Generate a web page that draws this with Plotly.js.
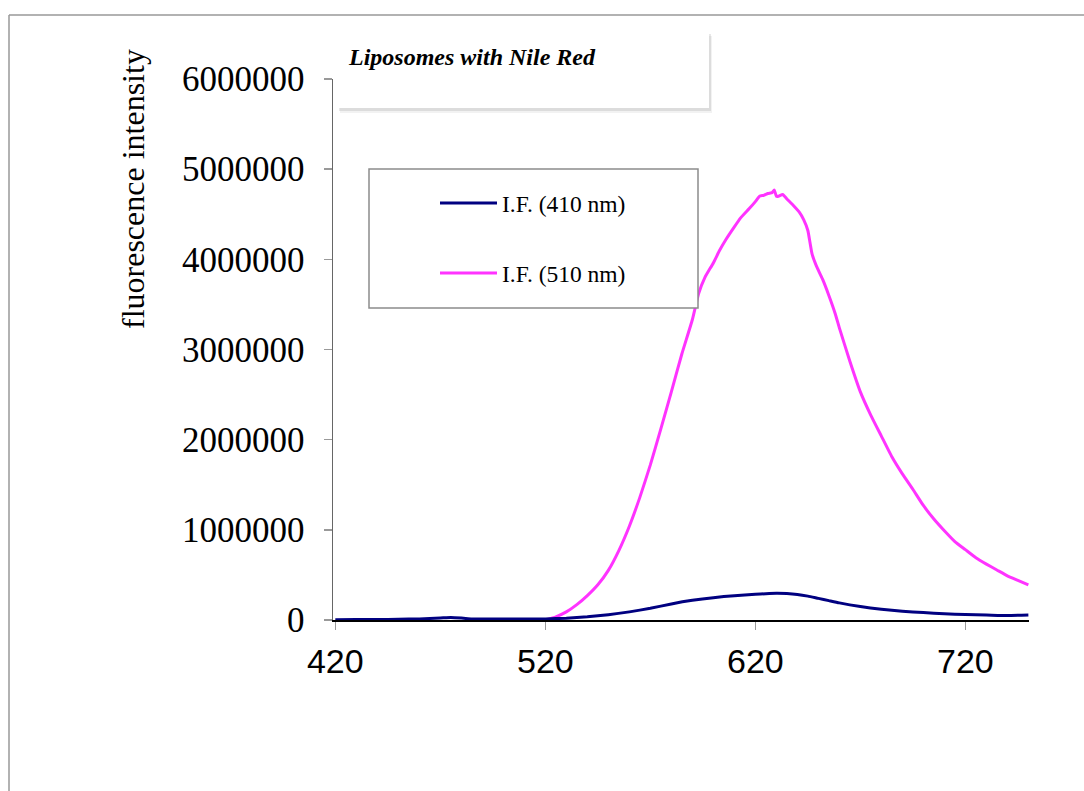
<!DOCTYPE html>
<html>
<head>
<meta charset="utf-8">
<script src="https://cdn.plot.ly/plotly-3.0.1.min.js"></script>
<style>
  html, body { margin: 0; padding: 0; background: #ffffff; }
  #chart { width: 1084px; height: 791px; }
</style>
</head>
<body>
<div id="chart"></div>
<script>
// Wavelength (nm) and fluorescence intensity
const wl510 = [520, 525, 530, 535, 540, 545, 550, 555, 560, 565, 570, 575, 580, 585, 590, 593, 596, 600, 603, 606, 610, 613, 617, 620, 622, 624, 626, 628, 629, 630, 631, 633, 635, 638, 641, 643, 645, 646, 647, 649, 652, 655, 658, 660, 665, 670, 675, 680, 685, 690, 695, 700, 705, 710, 715, 720, 725, 730, 735, 740, 745, 750];
const if510 = [0, 35000, 90000, 170000, 270000, 390000, 550000, 770000, 1040000, 1360000, 1720000, 2120000, 2530000, 2950000, 3330000, 3620000, 3800000, 3960000, 4100000, 4220000, 4360000, 4460000, 4560000, 4640000, 4700000, 4710000, 4730000, 4740000, 4770000, 4700000, 4700000, 4720000, 4670000, 4600000, 4520000, 4440000, 4320000, 4190000, 4060000, 3930000, 3780000, 3600000, 3400000, 3240000, 2870000, 2530000, 2270000, 2040000, 1810000, 1620000, 1450000, 1270000, 1120000, 990000, 870000, 780000, 690000, 620000, 555000, 490000, 440000, 390000];

const wl410 = [420, 430, 440, 450, 460, 470, 475, 480, 485, 490, 500, 510, 520, 530, 540, 550, 560, 570, 580, 590, 600, 610, 620, 625, 630, 635, 640, 645, 650, 655, 660, 670, 680, 690, 700, 710, 720, 730, 740, 750];
const if410 = [4000, 5000, 6000, 8000, 12000, 22000, 28000, 22000, 12000, 10000, 10000, 10000, 12000, 20000, 35000, 58000, 90000, 130000, 178000, 218000, 248000, 270000, 285000, 292000, 296000, 293000, 283000, 265000, 240000, 215000, 190000, 150000, 120000, 98000, 82000, 70000, 60000, 55000, 50000, 55000];

const seriesNames = ["I.F. (410 nm)", "I.F. (510 nm)"];
const seriesColors = ["#000080", "#FF33FF"];
const chartTitle = "Liposomes with Nile Red";
const yTitle = "fluorescence intensity";
const xTickVals = [420, 520, 620, 720];
const yTickVals = [0, 1000000, 2000000, 3000000, 4000000, 5000000, 6000000];

// plot area geometry in pixels
const W = 1084, H = 791;
const L = 333, R = 55, T = 79, B = 171;
const PW = W - L - R, PH = H - T - B;
const px = x => (x - L) / PW;          // pixel x -> paper x
const py = y => (H - B - y) / PH;      // pixel y -> paper y

const traces = [
  { x: wl510, y: if510, name: seriesNames[1], type: 'scatter', mode: 'lines',
    line: { color: seriesColors[1], width: 3, shape: 'spline', smoothing: 0.4 }, showlegend: false },
  { x: wl410, y: if410, name: seriesNames[0], type: 'scatter', mode: 'lines',
    line: { color: seriesColors[0], width: 3, shape: 'spline', smoothing: 0.5 }, showlegend: false }
];

const shapes = [
  // outer frame (top & left)
  { type: 'line', xref: 'paper', yref: 'paper', x0: px(9), x1: px(1084), y0: py(15), y1: py(15),
    line: { color: '#999999', width: 1.5 }, layer: 'above' },
  { type: 'line', xref: 'paper', yref: 'paper', x0: px(9), x1: px(9), y0: py(15), y1: py(791),
    line: { color: '#999999', width: 1.5 }, layer: 'above' },
  // title box shadow
  { type: 'rect', xref: 'paper', yref: 'paper', x0: px(340), x1: px(712), y0: py(36), y1: py(113),
    line: { width: 0 }, fillcolor: 'rgba(0,0,0,0.05)', layer: 'above' },
  { type: 'rect', xref: 'paper', yref: 'paper', x0: px(339), x1: px(711), y0: py(34), y1: py(111),
    line: { width: 0 }, fillcolor: 'rgba(0,0,0,0.09)', layer: 'above' },
  // title box
  { type: 'rect', xref: 'paper', yref: 'paper', x0: px(338), x1: px(709), y0: py(32), y1: py(108),
    line: { width: 0 }, fillcolor: '#ffffff', layer: 'above' },
  // legend box
  { type: 'rect', xref: 'paper', yref: 'paper', x0: px(369), x1: px(698), y0: py(169), y1: py(308),
    line: { color: '#8c8c8c', width: 1.5 }, fillcolor: '#ffffff', layer: 'above' },
  // legend samples
  { type: 'line', xref: 'paper', yref: 'paper', x0: px(440), x1: px(497), y0: py(203), y1: py(203),
    line: { color: seriesColors[0], width: 3 }, layer: 'above' },
  { type: 'line', xref: 'paper', yref: 'paper', x0: px(440), x1: px(497), y0: py(273), y1: py(273),
    line: { color: seriesColors[1], width: 3 }, layer: 'above' }
];

const serif = 'Liberation Serif, Times New Roman, serif';
const annotations = [
  { text: '<b><i>' + chartTitle + '</i></b>', xref: 'paper', yref: 'paper', x: px(346), y: py(57),
    xanchor: 'left', yanchor: 'middle', showarrow: false,
    font: { family: serif, size: 24, color: '#000000' } },
  { text: seriesNames[0], xref: 'paper', yref: 'paper', x: px(500), y: py(204),
    xanchor: 'left', yanchor: 'middle', showarrow: false,
    font: { family: serif, size: 23.5, color: '#000000' } },
  { text: seriesNames[1], xref: 'paper', yref: 'paper', x: px(500), y: py(274),
    xanchor: 'left', yanchor: 'middle', showarrow: false,
    font: { family: serif, size: 23.5, color: '#000000' } },
  { text: yTitle, xref: 'paper', yref: 'paper', x: px(133), y: py(189), textangle: -90,
    xanchor: 'center', yanchor: 'middle', showarrow: false,
    font: { family: serif, size: 32, color: '#000000' } }
];

const layout = {
  width: W, height: H,
  margin: { l: L, r: R, t: T, b: B, pad: 0 },
  paper_bgcolor: '#ffffff', plot_bgcolor: '#ffffff',
  showlegend: false,
  xaxis: {
    range: [418.9, 750.3], tickvals: xTickVals, ticktext: xTickVals.map(String),
    showgrid: false, zeroline: false, showline: true, linecolor: '#000000', linewidth: 1.5,
    ticks: 'outside', ticklen: 8, tickwidth: 1.5, tickcolor: '#999999',
    ticklabelstandoff: 3,
    tickfont: { family: 'Liberation Sans, Arial, sans-serif', size: 34, color: '#000000' }
  },
  yaxis: {
    range: [0, 6000000], tickvals: yTickVals, ticktext: yTickVals.map(String),
    showgrid: false, zeroline: false, showline: true, linecolor: '#666666', linewidth: 1.5,
    ticks: 'outside', ticklen: 8, tickwidth: 1.5, tickcolor: '#999999',
    ticklabelstandoff: 12,
    tickfont: { family: serif, size: 35, color: '#000000' }
  },
  shapes: shapes,
  annotations: annotations
};

Plotly.newPlot('chart', traces, layout, { staticPlot: true, displayModeBar: false });
</script>
</body>
</html>
